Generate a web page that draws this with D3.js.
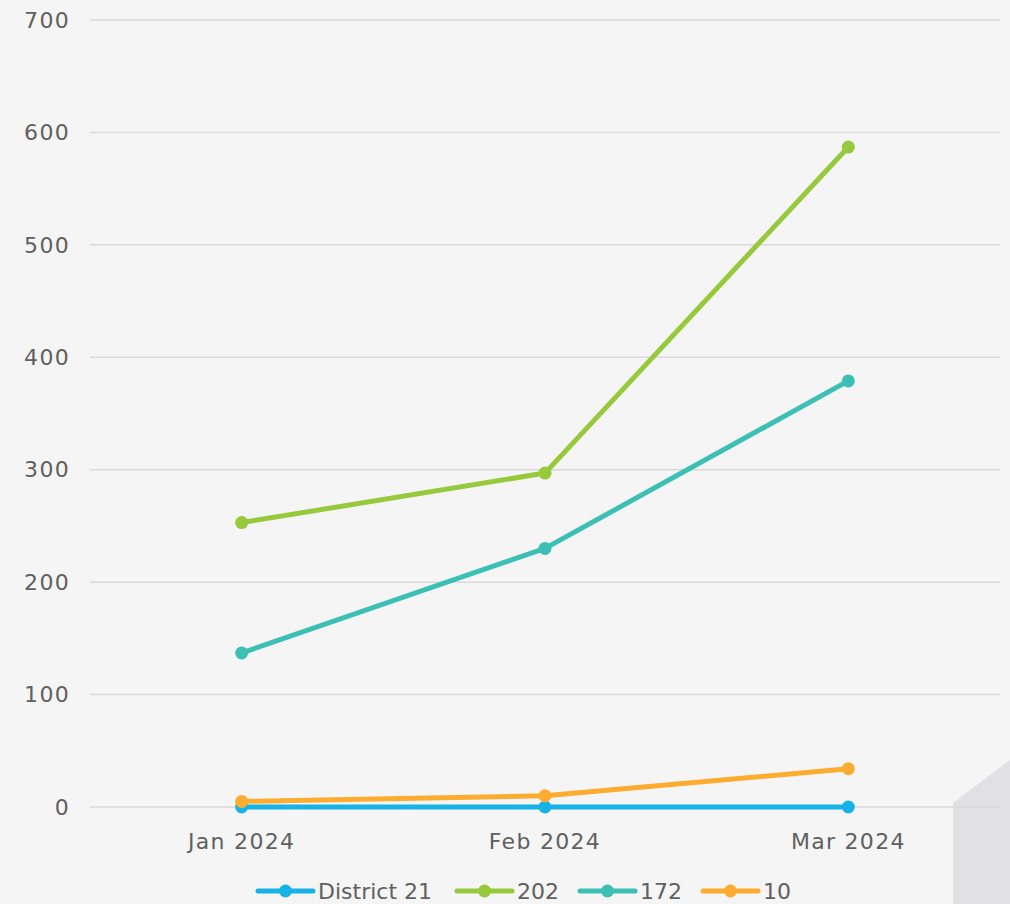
<!DOCTYPE html>
<html>
<head>
<meta charset="utf-8">
<script src="https://cdn.jsdelivr.net/npm/d3@7"></script>
<style>
  html, body { margin: 0; padding: 0; background: #f5f5f5; overflow: hidden; }
  svg text { font-family: "DejaVu Sans", sans-serif; fill: #606060; letter-spacing: 1.3px; }
  svg .legend text { letter-spacing: 0; }
</style>
</head>
<body>
<svg width="1010" height="904"></svg>
<script>
var months = ["Jan 2024", "Feb 2024", "Mar 2024"];
var seriesNames = ["District 21", "202", "172", "10"];
var seriesColors = ["#17b2e6", "#97c93c", "#3cbfb4", "#fcad2f"];
var district21 = [0, 0, 0];
var s202 = [253, 297, 587];
var s172 = [137, 230, 379];
var s10 = [5, 10, 34];
var yTicks = [0, 100, 200, 300, 400, 500, 600, 700];

var svg = d3.select("svg"),
    width = +svg.attr("width"),
    height = +svg.attr("height");

var series = [district21, s202, s172, s10].map(function(vals, i) {
    return { name: seriesNames[i], color: seriesColors[i], values: vals };
});

// grey decorative shape bottom right
svg.append("path")
    .attr("d", "M953,803 L1010,760 L1010,904 L953,904 Z")
    .attr("fill", "#e1e0e4");

var x = d3.scalePoint()
    .domain(months)
    .range([90, 1000])
    .padding(0.5);

var y = d3.scaleLinear()
    .domain([0, 700])
    .range([807, 20]);

// gridlines
svg.append("g")
    .selectAll("line")
    .data(yTicks)
    .enter().append("line")
    .attr("x1", 90)
    .attr("x2", 1000)
    .attr("y1", function(d) { return y(d); })
    .attr("y2", function(d) { return y(d); })
    .attr("stroke", "#d9d9d9")
    .attr("stroke-width", 1.5);

// y labels
svg.append("g")
    .selectAll("text")
    .data(yTicks)
    .enter().append("text")
    .attr("x", 70)
    .attr("y", function(d) { return y(d); })
    .attr("dy", "0.35em")
    .attr("text-anchor", "end")
    .attr("font-size", 22)
    .text(function(d) { return d; });

// x labels
svg.append("g")
    .selectAll("text")
    .data(months)
    .enter().append("text")
    .attr("x", function(d) { return x(d); })
    .attr("y", 849)
    .attr("text-anchor", "middle")
    .attr("font-size", 22)
    .text(function(d) { return d; });

var line = d3.line()
    .x(function(d, i) { return x(months[i]); })
    .y(function(d) { return y(d); });

var sg = svg.append("g")
    .selectAll("g")
    .data(series)
    .enter().append("g");

sg.append("path")
    .attr("d", function(d) { return line(d.values); })
    .attr("fill", "none")
    .attr("stroke", function(d) { return d.color; })
    .attr("stroke-width", 5)
    .attr("stroke-linejoin", "round");

sg.selectAll("circle")
    .data(function(d) { return d.values.map(function(v, i) { return { v: v, i: i, color: d.color }; }); })
    .enter().append("circle")
    .attr("cx", function(d) { return x(months[d.i]); })
    .attr("cy", function(d) { return y(d.v); })
    .attr("r", 6.5)
    .attr("fill", function(d) { return d.color; });

// legend
var legendX = [258, 457, 580, 703];
var lg = svg.append("g")
    .attr("class", "legend")
    .selectAll("g")
    .data(series)
    .enter().append("g")
    .attr("transform", function(d, i) { return "translate(" + legendX[i] + ",891)"; });

lg.append("line")
    .attr("x1", 0).attr("x2", 55)
    .attr("stroke", function(d) { return d.color; })
    .attr("stroke-width", 5)
    .attr("stroke-linecap", "round");

lg.append("circle")
    .attr("cx", 27.5)
    .attr("r", 6.5)
    .attr("fill", function(d) { return d.color; });

lg.append("text")
    .attr("x", 60)
    .attr("dy", "0.35em")
    .attr("font-size", 22)
    .text(function(d) { return d.name; });
</script>
</body>
</html>
